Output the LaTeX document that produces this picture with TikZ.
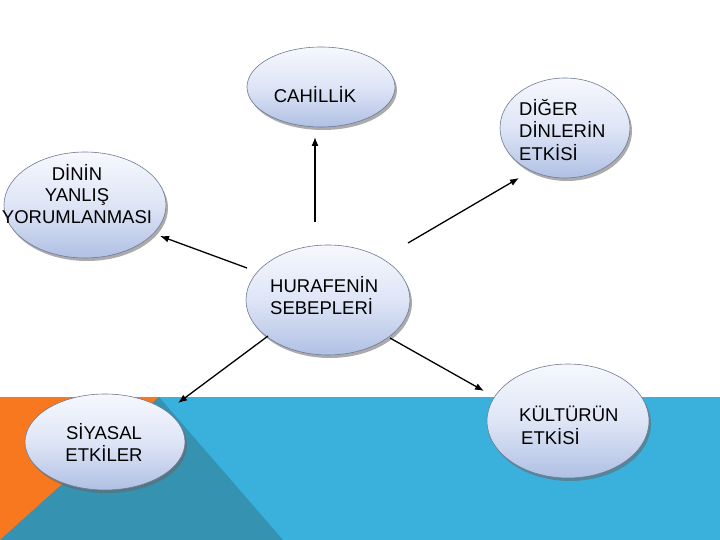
\documentclass[tikz,border=0pt]{standalone}
\usepackage{fontspec}
\setmainfont{Liberation Sans}
\usetikzlibrary{shapes.geometric,arrows.meta,shadows,calc}
\definecolor{bandblue}{RGB}{58,176,221}
\definecolor{bandteal}{RGB}{53,146,176}
\definecolor{bandorange}{RGB}{247,120,30}
\definecolor{elltop}{RGB}{246,248,253}
\definecolor{ellmid}{RGB}{222,229,246}
\definecolor{ellbot}{RGB}{176,192,228}
\definecolor{ellrim}{RGB}{110,122,150}
\tikzset{
  bubble/.style={ellipse, draw=ellrim, line width=0.6pt, inner sep=0pt,
    top color=elltop, bottom color=ellbot, middle color=ellmid,
    drop shadow={shadow xshift=2pt, shadow yshift=-3pt, opacity=0.55, fill=black!60}},
  txt/.style={font=\fontsize{18.5}{22}\selectfont, inner sep=0pt, text=black},
  conn/.style={line width=1.3pt, -{Latex[length=9pt,width=7pt]}}
}
\begin{document}
\begin{tikzpicture}[x=1pt,y=-1pt]
\useasboundingbox (0,0) rectangle (720,540);
% background band
\fill[white] (0,0) rectangle (720,540);
\fill[bandblue] (0,397) rectangle (720,540);
\fill[bandorange] (0,397) -- (159,397) -- (0,541) -- cycle;
\fill[bandteal] (159,397) -- (0,540) -- (283,540) -- cycle;

% ellipses
\node[bubble, minimum width=148pt, minimum height=80pt] (cah) at (321,87) {};
\node[bubble, minimum width=130pt, minimum height=100pt] (dig) at (565,128) {};
\node[bubble, minimum width=162pt, minimum height=106pt] (din) at (85,205) {};
\node[bubble, minimum width=164pt, minimum height=110pt] (hur) at (328,300) {};
\node[bubble, minimum width=160pt, minimum height=96pt] (siy) at (105,442) {};
\node[bubble, minimum width=162pt, minimum height=114pt] (kul) at (568,421) {};

% texts
\node[txt] (tcah) at (315,95) {CAHİLLİK};
\node[txt, align=left, anchor=west, font=\fontsize{18.5}{22.5}\selectfont] (tdig) at (519,130) {DİĞER\\DİNLERİN\\ETKİSİ};
\node[txt, align=center, font=\fontsize{18.5}{21.5}\selectfont] (tdin) at (77,194) {DİNİN\\YANLIŞ\\YORUMLANMASI};
\node[txt, align=left, anchor=west] (thur) at (270,296) {HURAFENİN\\SEBEPLERİ};
\node[txt, align=center] (tsiy) at (104,442) {SİYASAL\\ETKİLER};
\node[txt, align=left, anchor=west, font=\fontsize{18.5}{23}\selectfont] (tkul) at (519,425) {KÜLTÜRÜN\\\hspace{2pt}ETKİSİ};

% connectors
\draw[conn] ($(hur)+(-13,-78)$) -- ($(cah)+(-6,50)$);
\draw[conn] ($(hur)+(-81,-32)$) -- ($(din)+(75,31)$);
\draw[conn] ($(hur)+(80,-57)$) -- ($(dig)+(-46,50)$);
\draw[conn] ($(hur)+(-60,36)$) -- ($(siy)+(73,-39)$);
\draw[conn] ($(hur)+(62,38)$) -- ($(kul)+(-84,-30)$);
\end{tikzpicture}
\end{document}
